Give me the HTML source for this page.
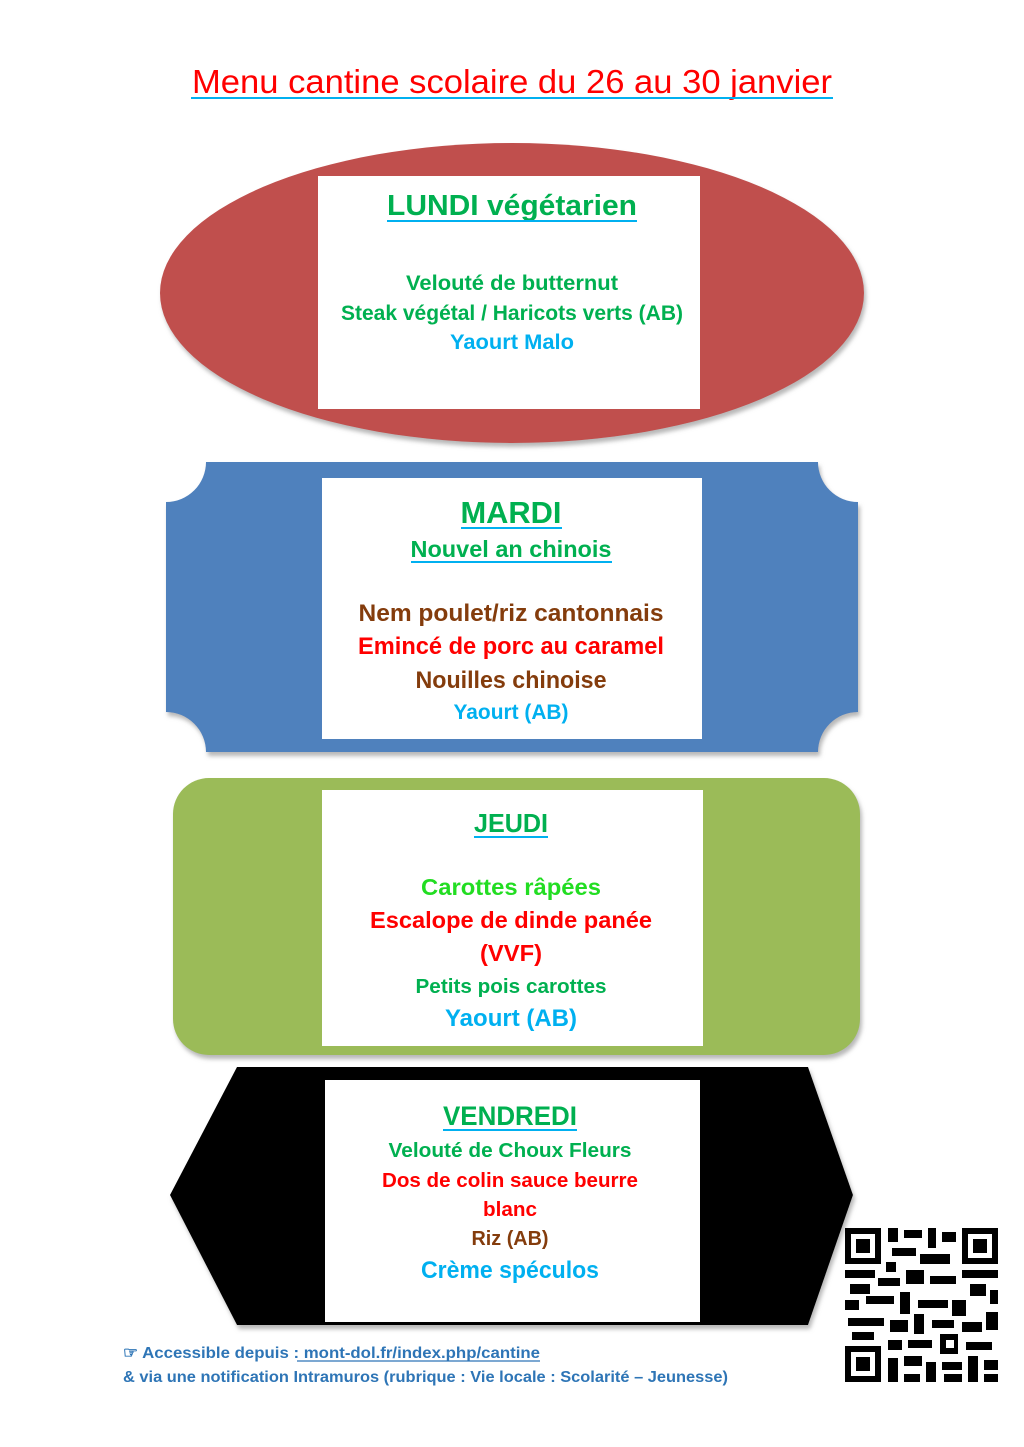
<!DOCTYPE html>
<html><head><meta charset="utf-8"><style>
html,body{margin:0;padding:0;background:#fff;}
svg{display:block;}
text{font-family:"Liberation Sans",sans-serif;font-weight:bold;}
</style></head><body>
<svg width="1024" height="1447" viewBox="0 0 1024 1447" xmlns="http://www.w3.org/2000/svg">
<defs>
<filter id="sh" x="-5%" y="-5%" width="110%" height="115%"><feDropShadow dx="2" dy="4" stdDeviation="2" flood-color="#999" flood-opacity="0.7"/></filter>
</defs>
<!-- title -->
<text x="512" y="93" text-anchor="middle" font-size="33" fill="#ff0000" style="font-weight:normal" textLength="640" lengthAdjust="spacingAndGlyphs">Menu cantine scolaire du 26 au 30 janvier</text>
<line x1="191" y1="98" x2="833" y2="98" stroke="#00b0f0" stroke-width="2"/>

<!-- shapes -->
<ellipse cx="512" cy="293" rx="352" ry="150" fill="#c0504d" filter="url(#sh)"/>
<rect x="318" y="176" width="382" height="233" fill="#fff"/>

<path d="M206,462 L818,462 A40,40 0 0 0 858,502 L858,712 A40,40 0 0 0 818,752 L206,752 A40,40 0 0 0 166,712 L166,502 A40,40 0 0 0 206,462 Z" fill="#4f81bd" filter="url(#sh)"/>
<rect x="322" y="478" width="380" height="261" fill="#fff"/>

<rect x="173" y="778" width="687" height="277" rx="36" fill="#9bbb59" filter="url(#sh)"/>
<rect x="322" y="790" width="381" height="256" fill="#fff"/>

<polygon points="237,1067 808,1067 853,1195 808,1325 237,1325 170,1195" fill="#000" filter="url(#sh)"/>
<rect x="325" y="1080" width="375" height="242" fill="#fff"/>

<!-- LUNDI -->
<text x="512" y="215" text-anchor="middle" font-size="29" fill="#00b050" textLength="250" lengthAdjust="spacingAndGlyphs">LUNDI végétarien</text>
<line x1="387" y1="221" x2="637" y2="221" stroke="#00b0f0" stroke-width="2"/>
<text x="512" y="290" text-anchor="middle" font-size="21" fill="#00b050" textLength="212" lengthAdjust="spacingAndGlyphs">Velouté de butternut</text>
<text x="512" y="320" text-anchor="middle" font-size="21" fill="#00b050" textLength="342" lengthAdjust="spacingAndGlyphs">Steak végétal / Haricots verts (AB)</text>
<text x="512" y="349" text-anchor="middle" font-size="21" fill="#00b0f0" textLength="124" lengthAdjust="spacingAndGlyphs">Yaourt Malo</text>

<!-- MARDI -->
<text x="511" y="523" text-anchor="middle" font-size="31" fill="#00b050" textLength="101" lengthAdjust="spacingAndGlyphs">MARDI</text>
<line x1="461" y1="528" x2="562" y2="528" stroke="#00b0f0" stroke-width="2"/>
<text x="511" y="557" text-anchor="middle" font-size="23" fill="#00b050" textLength="201" lengthAdjust="spacingAndGlyphs">Nouvel an chinois</text>
<line x1="411" y1="562" x2="612" y2="562" stroke="#00b0f0" stroke-width="2"/>
<text x="511" y="621" text-anchor="middle" font-size="24" fill="#843c0c" textLength="305" lengthAdjust="spacingAndGlyphs">Nem poulet/riz cantonnais</text>
<text x="511" y="654" text-anchor="middle" font-size="24" fill="#ff0000" textLength="306" lengthAdjust="spacingAndGlyphs">Emincé de porc au caramel</text>
<text x="511" y="688" text-anchor="middle" font-size="24" fill="#843c0c" textLength="191" lengthAdjust="spacingAndGlyphs">Nouilles chinoise</text>
<text x="511" y="719" text-anchor="middle" font-size="21" fill="#00b0f0" textLength="115" lengthAdjust="spacingAndGlyphs">Yaourt (AB)</text>

<!-- JEUDI -->
<text x="511" y="832" text-anchor="middle" font-size="26" fill="#00b050" textLength="74" lengthAdjust="spacingAndGlyphs">JEUDI</text>
<line x1="474" y1="837" x2="548" y2="837" stroke="#00b0f0" stroke-width="2"/>
<text x="511" y="895" text-anchor="middle" font-size="23" fill="#22dd22" textLength="180" lengthAdjust="spacingAndGlyphs">Carottes râpées</text>
<text x="511" y="928" text-anchor="middle" font-size="23" fill="#ff0000" textLength="282" lengthAdjust="spacingAndGlyphs">Escalope de dinde panée</text>
<text x="511" y="961" text-anchor="middle" font-size="23" fill="#ff0000" textLength="62" lengthAdjust="spacingAndGlyphs">(VVF)</text>
<text x="511" y="993" text-anchor="middle" font-size="20" fill="#00b050" textLength="191" lengthAdjust="spacingAndGlyphs">Petits pois carottes</text>
<text x="511" y="1026" text-anchor="middle" font-size="24" fill="#00b0f0" textLength="132" lengthAdjust="spacingAndGlyphs">Yaourt (AB)</text>

<!-- VENDREDI -->
<text x="510" y="1125" text-anchor="middle" font-size="27" fill="#00b050" textLength="134" lengthAdjust="spacingAndGlyphs">VENDREDI</text>
<line x1="443" y1="1130" x2="577" y2="1130" stroke="#00b0f0" stroke-width="2"/>
<text x="510" y="1157" text-anchor="middle" font-size="20" fill="#00b050" textLength="243" lengthAdjust="spacingAndGlyphs">Velouté de Choux Fleurs</text>
<text x="510" y="1187" text-anchor="middle" font-size="20" fill="#ff0000" textLength="256" lengthAdjust="spacingAndGlyphs">Dos de colin sauce beurre</text>
<text x="510" y="1216" text-anchor="middle" font-size="20" fill="#ff0000" textLength="54" lengthAdjust="spacingAndGlyphs">blanc</text>
<text x="510" y="1245" text-anchor="middle" font-size="20" fill="#843c0c" textLength="77" lengthAdjust="spacingAndGlyphs">Riz (AB)</text>
<text x="510" y="1278" text-anchor="middle" font-size="24" fill="#00b0f0" textLength="178" lengthAdjust="spacingAndGlyphs">Crème spéculos</text>

<!-- footer -->
<text x="123" y="1358" font-size="16" fill="#2e75b6" textLength="417" lengthAdjust="spacingAndGlyphs">☞ Accessible depuis : mont-dol.fr/index.php/cantine</text>
<line x1="297" y1="1361" x2="540" y2="1361" stroke="#2e75b6" stroke-width="1.2"/>
<text x="123" y="1382" font-size="16" fill="#2e75b6" textLength="605" lengthAdjust="spacingAndGlyphs">&amp; via une notification Intramuros (rubrique : Vie locale : Scolarité – Jeunesse)</text>

<!-- QR -->
<g fill="#000">
<rect x="845" y="1228" width="36" height="36"/><rect x="851" y="1234" width="24" height="24" fill="#fff"/><rect x="856" y="1239" width="14" height="14"/>
<rect x="962" y="1228" width="36" height="36"/><rect x="968" y="1234" width="24" height="24" fill="#fff"/><rect x="973" y="1239" width="14" height="14"/>
<rect x="845" y="1346" width="36" height="36"/><rect x="851" y="1352" width="24" height="24" fill="#fff"/><rect x="856" y="1357" width="14" height="14"/>
<rect x="888" y="1228" width="10" height="14"/><rect x="904" y="1230" width="18" height="8"/><rect x="928" y="1228" width="8" height="20"/><rect x="942" y="1232" width="14" height="10"/>
<rect x="892" y="1248" width="24" height="8"/><rect x="920" y="1254" width="30" height="10"/><rect x="886" y="1262" width="10" height="10"/>
<rect x="845" y="1270" width="30" height="8"/><rect x="850" y="1284" width="20" height="10"/><rect x="878" y="1278" width="22" height="8"/><rect x="906" y="1270" width="18" height="14"/>
<rect x="930" y="1276" width="26" height="8"/><rect x="962" y="1270" width="36" height="8"/><rect x="970" y="1284" width="16" height="12"/><rect x="990" y="1290" width="8" height="14"/>
<rect x="845" y="1300" width="14" height="10"/><rect x="866" y="1296" width="28" height="8"/><rect x="900" y="1292" width="10" height="22"/><rect x="918" y="1300" width="30" height="8"/>
<rect x="952" y="1300" width="14" height="16"/><rect x="848" y="1318" width="36" height="8"/><rect x="890" y="1320" width="18" height="12"/><rect x="914" y="1314" width="10" height="20"/>
<rect x="932" y="1320" width="22" height="8"/><rect x="962" y="1322" width="20" height="10"/><rect x="986" y="1312" width="12" height="18"/><rect x="852" y="1332" width="22" height="8"/>
<rect x="888" y="1340" width="14" height="10"/><rect x="908" y="1340" width="24" height="8"/><rect x="940" y="1334" width="18" height="20"/><rect x="946" y="1340" width="8" height="8" fill="#fff"/>
<rect x="966" y="1342" width="26" height="8"/><rect x="888" y="1358" width="10" height="24"/><rect x="904" y="1356" width="18" height="10"/><rect x="926" y="1362" width="10" height="20"/>
<rect x="942" y="1362" width="20" height="8"/><rect x="968" y="1356" width="10" height="26"/><rect x="984" y="1360" width="14" height="10"/><rect x="904" y="1374" width="16" height="8"/>
<rect x="944" y="1374" width="18" height="8"/><rect x="984" y="1374" width="14" height="8"/>
</g>
</svg>
</body></html>
